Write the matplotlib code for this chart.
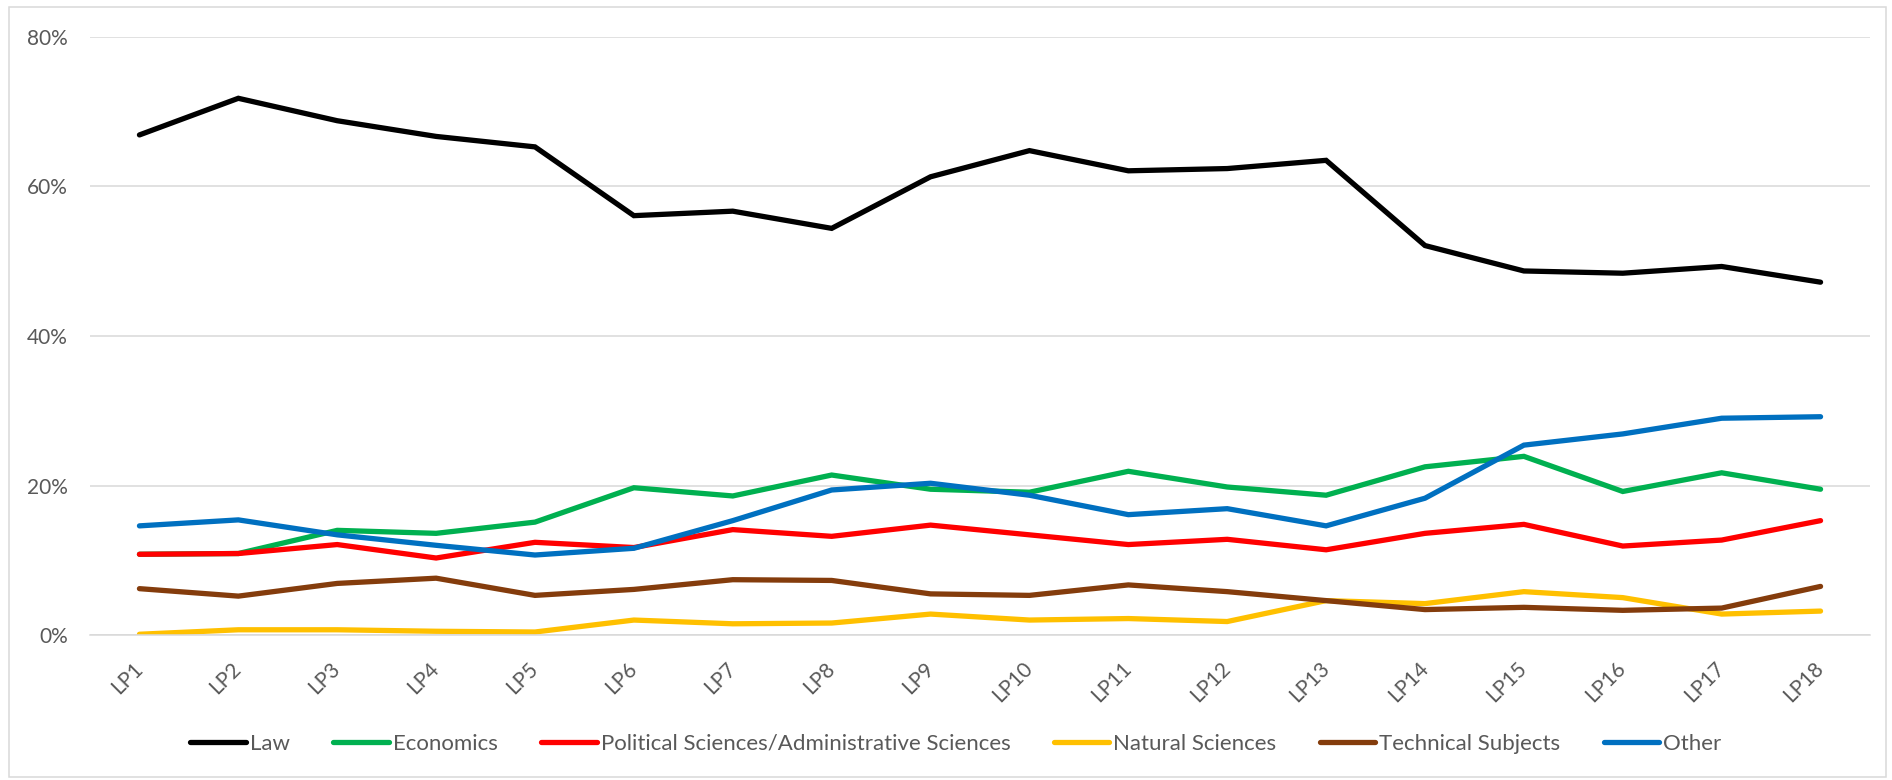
import matplotlib
matplotlib.use("Agg")
import matplotlib.pyplot as plt
from matplotlib.patches import Rectangle
from matplotlib.ticker import FuncFormatter

periods = [f"LP{i}" for i in range(1, 19)]

law = [66.9, 71.8, 68.8, 66.7, 65.3, 56.1, 56.7, 54.4, 61.3, 64.8, 62.1, 62.4, 63.5, 52.1, 48.7, 48.4, 49.3, 47.2]
economics = [10.8, 10.9, 14.0, 13.6, 15.1, 19.7, 18.6, 21.4, 19.5, 19.1, 21.9, 19.8, 18.7, 22.5, 23.9, 19.2, 21.7, 19.5]
political = [10.8, 10.9, 12.1, 10.3, 12.4, 11.7, 14.1, 13.2, 14.7, 13.4, 12.1, 12.8, 11.4, 13.6, 14.8, 11.9, 12.7, 15.3]
natural = [0.1, 0.7, 0.7, 0.5, 0.4, 2.0, 1.5, 1.6, 2.8, 2.0, 2.2, 1.8, 4.6, 4.2, 5.8, 5.0, 2.8, 3.2]
technical = [6.2, 5.2, 6.9, 7.6, 5.3, 6.1, 7.4, 7.3, 5.5, 5.3, 6.7, 5.8, 4.6, 3.4, 3.7, 3.3, 3.6, 6.5]
other = [14.6, 15.4, 13.4, 12.0, 10.7, 11.6, 15.3, 19.4, 20.3, 18.7, 16.1, 16.9, 14.6, 18.3, 25.4, 26.9, 29.0, 29.2]

series_names = ["Law", "Economics", "Political Sciences/Administrative Sciences",
                "Natural Sciences", "Technical Subjects", "Other"]
series_values = [law, economics, political, natural, technical, other]
colors = ["#000000", "#00B050", "#FF0000", "#FFC000", "#843C0C", "#0070C0"]

plt.rcParams['font.family'] = ['Lato', 'DejaVu Sans']

fig = plt.figure(figsize=(18.92, 7.8), dpi=100)
W, H = 1892, 780
ax = fig.add_axes([90 / W, 1 - 635 / H, (1870 - 90) / W, (635 - 37) / H])

x = list(range(len(periods)))
for name, vals, c in zip(series_names, series_values, colors):
    ax.plot(x, vals, color=c, lw=3.8, label=name, solid_capstyle='round', solid_joinstyle='miter')

ax.set_xlim(-0.5, len(periods) - 0.5)
ax.set_ylim(0, 80)
ax.set_yticks([0, 20, 40, 60, 80])
ax.yaxis.set_major_formatter(FuncFormatter(lambda v, p: f"{int(v)}%"))
ax.grid(axis='y', color='#d9d9d9', lw=1.1)
ax.set_axisbelow(True)
for s in ['top', 'right', 'left']:
    ax.spines[s].set_visible(False)
ax.spines['bottom'].set_color('#d9d9d9')
ax.spines['bottom'].set_linewidth(1.1)

ax.set_xticks(x)
ax.set_xticklabels(periods, rotation=45, ha='right', va='center', rotation_mode='anchor')
ax.tick_params(axis='x', length=0, pad=22, labelsize=15, labelcolor='#595959')
ax.tick_params(axis='y', length=0, pad=16, labelsize=15, labelcolor='#595959')

leg = fig.legend(loc='center', bbox_to_anchor=(956 / W, 1 - 744 / H), ncol=6, frameon=False,
                 fontsize=16, handlelength=2.5, handletextpad=0.18, columnspacing=1.95,
                 labelcolor='#595959')

fig.patches.append(Rectangle((9 / W, 1 - 777 / H), (1886 - 9) / W, (777 - 7) / H,
                             transform=fig.transFigure, fill=False, edgecolor='#d9d9d9', lw=1.1))

fig.savefig("out.png", dpi=100, facecolor='white')
